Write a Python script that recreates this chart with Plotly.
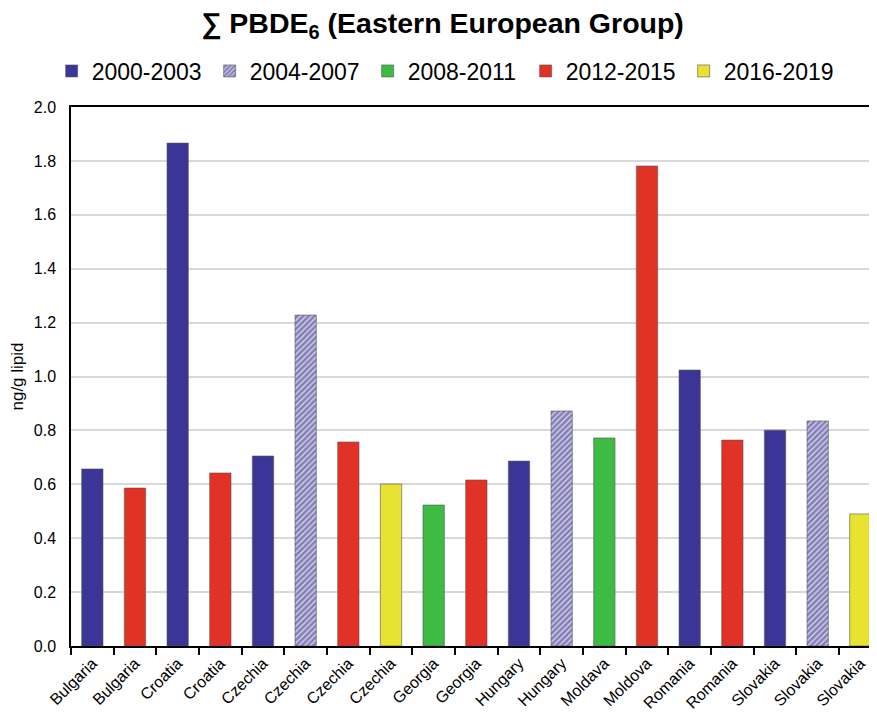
import plotly.graph_objects as go

categories = ["Bulgaria", "Bulgaria", "Croatia", "Croatia", "Czechia", "Czechia", "Czechia", "Czechia",
              "Georgia", "Georgia", "Hungary", "Hungary", "Moldava", "Moldova", "Romania", "Romania",
              "Slovakia", "Slovakia", "Slovakia"]
periods = ["2000-2003", "2012-2015", "2000-2003", "2012-2015", "2000-2003", "2004-2007", "2012-2015", "2016-2019",
           "2008-2011", "2012-2015", "2000-2003", "2004-2007", "2008-2011", "2012-2015", "2000-2003", "2012-2015",
           "2000-2003", "2004-2007", "2016-2019"]
values = [0.657, 0.586, 1.866, 0.642, 0.705, 1.228, 0.757, 0.601,
          0.523, 0.616, 0.686, 0.872, 0.772, 1.781, 1.024, 0.764,
          0.801, 0.835, 0.490]
period_order = ["2000-2003", "2004-2007", "2008-2011", "2012-2015", "2016-2019"]
colors = {"2000-2003": "#3b3598", "2004-2007": "#3b3598", "2008-2011": "#3dbb45",
          "2012-2015": "#e03325", "2016-2019": "#e8e231"}
y_ticks = [0.0, 0.2, 0.4, 0.6, 0.8, 1.0, 1.2, 1.4, 1.6, 1.8, 2.0]

FONT = "Arial, 'Liberation Sans', sans-serif"

fig = go.Figure()
for p in period_order:
    xs = [i for i, q in enumerate(periods) if q == p]
    ys = [values[i] for i in xs]
    if p == "2004-2007":
        marker = dict(color="#a9a5d6",
                      pattern=dict(shape="/", fgcolor="#2a2578", bgcolor="#dddbf2", size=4, solidity=0.7),
                      line=dict(color="#555555", width=0.6))
    else:
        marker = dict(color=colors[p], line=dict(color="#555555", width=0.6))
    fig.add_trace(go.Bar(x=xs, y=ys, name=p, marker=marker, width=0.5))

# The page body has an 8px margin, so the figure is 8px smaller and margins shifted.
fig.update_layout(
    width=869, height=706,
    margin=dict(l=63, r=0, t=99, b=68, autoexpand=False),
    paper_bgcolor="white", plot_bgcolor="white",
    font=dict(family=FONT, color="black"),
    title=dict(text="<b>∑ PBDE<sub>6</sub> (Eastern European Group)</b>",
               x=0.5, xanchor="center", y=1 - 15 / 706, yanchor="middle",
               font=dict(size=28.5, family=FONT, color="black")),
    legend=dict(orientation="h", x=-0.024, xanchor="left", y=1 + 36 / 539, yanchor="middle",
                font=dict(size=23), entrywidth=113, entrywidthmode="pixels",
                traceorder="normal", bgcolor="rgba(0,0,0,0)"),
    bargap=0.5,
    showlegend=True,
)
fig.update_xaxes(
    range=[-0.5, 18.39], automargin=False,
    tickmode="array", tickvals=list(range(len(categories))), ticktext=categories,
    tickangle=-45, tickfont=dict(size=16), ticks="",
    showline=True, linecolor="black", linewidth=1.5, mirror=True,
    showgrid=False, zeroline=False,
    minor=dict(tickmode="array", tickvals=[i - 0.5 for i in range(len(categories) + 1)],
               ticks="outside", ticklen=7, tickwidth=1.5, tickcolor="black", showgrid=False),
)
fig.update_yaxes(
    range=[0, 2.0], tickmode="array", tickvals=y_ticks, tickformat=".1f",
    tickfont=dict(size=16), ticks="", automargin=False, ticklabelstandoff=10,
    showline=True, linecolor="black", linewidth=1.5, mirror=True,
    showgrid=True, gridcolor="#d9d9d9", gridwidth=1.5, zeroline=False,
    title=dict(text="ng/g lipid", font=dict(size=17), standoff=6),
)
fig.write_html("out.html")
